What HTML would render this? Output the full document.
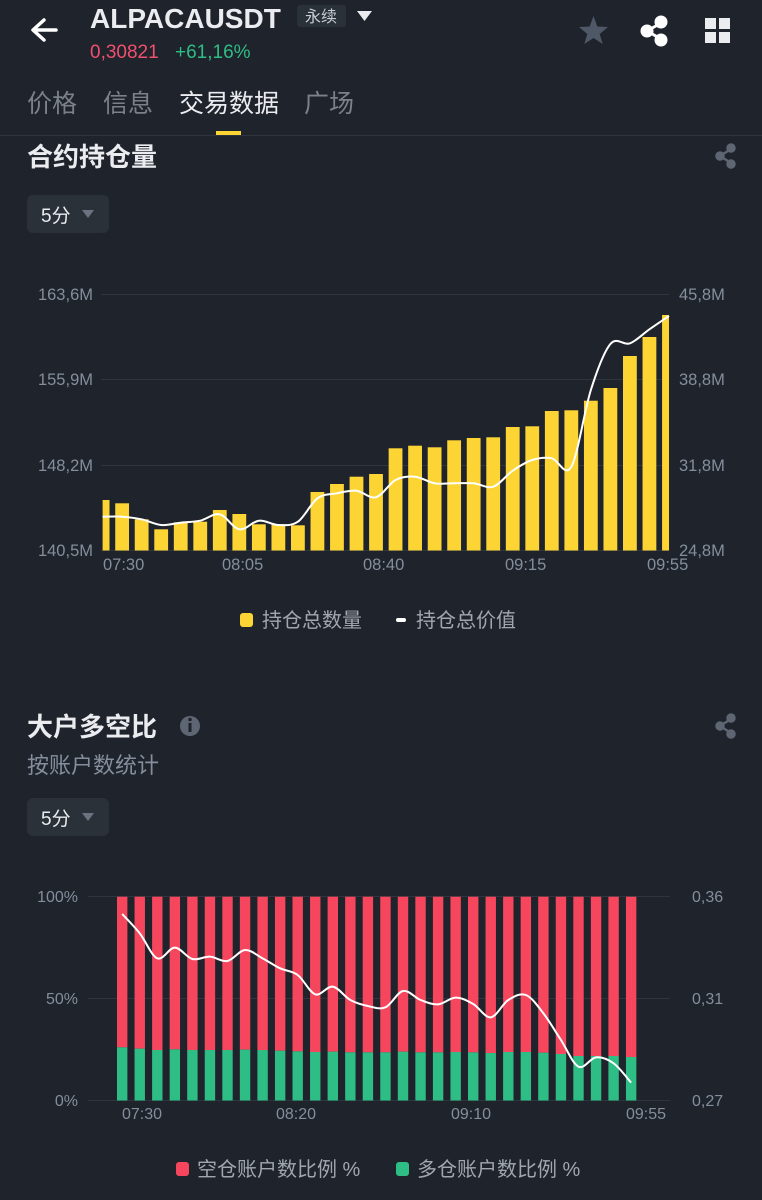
<!DOCTYPE html>
<html><head><meta charset="utf-8">
<style>
html,body{margin:0;padding:0;background:#1f232b;}
svg{display:block}
text{font-family:"Liberation Sans","Noto Sans CJK SC",sans-serif;}
</style></head><body>
<svg id="s" width="762" height="1200" viewBox="0 0 762 1200" xmlns="http://www.w3.org/2000/svg">
<rect width="762" height="1200" fill="#1f232b"/>
<!-- header -->
<path d="M56 30 H34 M44 20 L33 30 L44 40" stroke="#fff" stroke-width="3.5" fill="none" stroke-linecap="round" stroke-linejoin="round"/>
<text x="90" y="28" font-size="28" font-weight="bold" fill="#eaecef">ALPACAUSDT</text>
<rect x="297" y="5" width="49" height="22" rx="3" fill="#2b3139"/>
<text x="321" y="22" font-size="16" fill="#c8ccd2" text-anchor="middle">永续</text>
<path d="M357 11 L372 11 L364.5 21 Z" fill="#eaecef"/>
<text x="90" y="58" font-size="19" fill="#f0506e">0,30821</text>
<text x="175" y="58" font-size="19" fill="#2ebd85">+61,16%</text>
<path d="M593.5 16 L597.3 26.5 L608 27 L599.7 34 L602.7 44 L593.5 38 L584.3 44 L587.3 34 L579 27 L589.7 26.5 Z" fill="#4f5867"/>
<g fill="#fff" stroke="#fff" stroke-width="3"><line x1="647" y1="31" x2="661" y2="23"/><line x1="647" y1="31" x2="661" y2="39"/><circle cx="647" cy="31" r="5"/><circle cx="661" cy="22" r="5"/><circle cx="661" cy="40" r="5"/></g>
<g fill="#eaecef"><rect x="705" y="18" width="11" height="11"/><rect x="719" y="18" width="11" height="11"/><rect x="705" y="32" width="11" height="11"/><rect x="719" y="32" width="11" height="11"/></g>
<!-- tabs -->
<text x="27" y="112" font-size="25" fill="#7b818b">价格</text>
<text x="103" y="112" font-size="25" fill="#7b818b">信息</text>
<text x="179" y="112" font-size="25" fill="#eaecef">交易数据</text>
<text x="304" y="112" font-size="25" fill="#7b818b">广场</text>
<rect x="216" y="131" width="25" height="4" fill="#fcd535"/>
<rect x="0" y="135" width="762" height="1" fill="#2e343d"/>
<!-- section 1 -->
<text x="27" y="166" font-size="26" font-weight="bold" fill="#eaecef">合约持仓量</text>
<g fill="#5e6673" stroke="#5e6673" stroke-width="2.5"><line x1="720" y1="156" x2="731" y2="149"/><line x1="720" y1="156" x2="731" y2="163"/><circle cx="720" cy="156" r="3.5"/><circle cx="731" cy="148" r="3.5"/><circle cx="731" cy="164" r="3.5"/></g>
<rect x="27" y="195" width="82" height="38" rx="6" fill="#2b3139"/>
<text x="41" y="222" font-size="19" fill="#eaecef">5分</text>
<path d="M82 210 L94 210 L88 218 Z" fill="#6b7280"/>
<g stroke="#2f353e" stroke-width="1"><line x1="101" y1="294.5" x2="669" y2="294.5"/><line x1="101" y1="379.5" x2="669" y2="379.5"/><line x1="101" y1="465.5" x2="669" y2="465.5"/><line x1="101" y1="550.5" x2="669" y2="550.5"/></g>
<g font-size="16.5" fill="#848e9c">
<text x="93" y="300" text-anchor="end">163,6M</text><text x="93" y="385" text-anchor="end">155,9M</text><text x="93" y="471" text-anchor="end">148,2M</text><text x="93" y="556" text-anchor="end">140,5M</text>
<text x="679" y="300">45,8M</text><text x="679" y="385">38,8M</text><text x="679" y="471">31,8M</text><text x="679" y="556">24,8M</text>
<text x="103" y="570">07:30</text><text x="222" y="570">08:05</text><text x="363" y="570">08:40</text><text x="505" y="570">09:15</text><text x="647" y="570">09:55</text>
</g>
<g id="b1"></g>
<path id="l1" fill="none" stroke="#fff" stroke-width="2"/>
<rect x="240" y="613" width="13" height="14" rx="3" fill="#fcd535"/>
<text x="262" y="627" font-size="20" fill="#a1a7b0">持仓总数量</text>
<rect x="396" y="618" width="10" height="4" rx="2" fill="#fff"/>
<text x="416" y="627" font-size="20" fill="#a1a7b0">持仓总价值</text>
<!-- section 2 -->
<text x="27" y="736" font-size="26" font-weight="bold" fill="#eaecef">大户多空比</text>
<circle cx="190" cy="726" r="10" fill="#5e6673"/><rect x="188.5" y="723" width="3" height="9" fill="#1f232b"/><circle cx="190" cy="719.5" r="1.8" fill="#1f232b"/>
<text x="27" y="773" font-size="22" fill="#848e9c">按账户数统计</text>
<g fill="#5e6673" stroke="#5e6673" stroke-width="2.5"><line x1="720" y1="726" x2="731" y2="719"/><line x1="720" y1="726" x2="731" y2="733"/><circle cx="720" cy="726" r="3.5"/><circle cx="731" cy="718" r="3.5"/><circle cx="731" cy="734" r="3.5"/></g>
<rect x="27" y="798" width="82" height="38" rx="6" fill="#2b3139"/>
<text x="41" y="825" font-size="19" fill="#eaecef">5分</text>
<path d="M82 813 L94 813 L88 821 Z" fill="#6b7280"/>
<g stroke="#2f353e" stroke-width="1"><line x1="88" y1="896.5" x2="670" y2="896.5"/><line x1="88" y1="998.5" x2="670" y2="998.5"/><line x1="88" y1="1100.5" x2="670" y2="1100.5"/></g>
<g font-size="16" fill="#848e9c">
<text x="78" y="902" text-anchor="end">100%</text><text x="78" y="1004" text-anchor="end">50%</text><text x="78" y="1106" text-anchor="end">0%</text>
<text x="692" y="902">0,36</text><text x="692" y="1004">0,31</text><text x="692" y="1106">0,27</text>
<text x="122" y="1119">07:30</text><text x="276" y="1119">08:20</text><text x="451" y="1119">09:10</text><text x="626" y="1119">09:55</text>
</g>
<g id="b2"></g>
<path id="l2" fill="none" stroke="#fff" stroke-width="2"/>
<rect x="176" y="1162" width="13" height="14" rx="3" fill="#f6465d"/>
<text x="197" y="1176" font-size="20" fill="#a1a7b0">空仓账户数比例 %</text>
<rect x="396" y="1162" width="13" height="14" rx="3" fill="#2ebd85"/>
<text x="417" y="1176" font-size="20" fill="#a1a7b0">多仓账户数比例 %</text>
</svg>
<script>
var NS="http://www.w3.org/2000/svg";
function smooth(p){var d="M"+p[0][0]+" "+p[0][1];for(var i=0;i<p.length-1;i++){var p0=p[i-1]||p[i],p1=p[i],p2=p[i+1],p3=p[i+2]||p2;var c1x=p1[0]+(p2[0]-p0[0])/6,c1y=p1[1]+(p2[1]-p0[1])/6,c2x=p2[0]-(p3[0]-p1[0])/6,c2y=p2[1]-(p3[1]-p1[1])/6;d+=" C"+c1x+" "+c1y+" "+c2x+" "+c2y+" "+p2[0]+" "+p2[1];}return d;}
function rect(g,x,y,w,h,c){var r=document.createElementNS(NS,"rect");r.setAttribute("x",x);r.setAttribute("y",y);r.setAttribute("width",w);r.setAttribute("height",h);r.setAttribute("fill",c);g.appendChild(r);}
var t1=[500,503.3,519.3,529.3,522.3,521.7,510,514,524.3,524.3,525.3,492,484,476.7,474,448.3,445.7,447.3,440.3,438,437.3,427,426.3,411,410.3,400.7,388,356,337,315];
var l1=[516.7,516.7,519.3,525,522.7,520.7,514.3,529.3,520.7,525,521.7,498.3,493.3,490.7,497.3,480,476.7,483.3,483.3,483.3,486.7,470.7,460,458.3,466.7,390,344,343.3,329.3,316];
var g1=document.getElementById("b1"),pts=[];
for(var i=0;i<30;i++){var cx=102.6+i*19.53;var x0=Math.max(cx-6.9,102.6),x1=Math.min(cx+6.9,669);rect(g1,x0,t1[i],x1-x0,550.5-t1[i],"#fcd535");pts.push([cx,l1[i]]);}
document.getElementById("l1").setAttribute("d",smooth(pts));
var gz=[502,506,510,508,510,510,510,509,510,512,514,516,515,517,517,517,515,517,517,516,517,519,516,516,518,522,528,528,528,531];
var lz=[102,160,235,203,237,230,243,210,235,265,285,343,320,360,378,382,333,360,373,353,372,412,360,345,400,480,560,532,550,608];
var g2=document.getElementById("b2"),p2=[];
for(var i=0;i<30;i++){var x=117+i*17.55;var gy=880+gz[i]/3;rect(g2,x,896.7,10.4,gy-896.7,"#f6465d");rect(g2,x,gy,10.4,1100.5-gy,"#2ebd85");p2.push([x+5.2,880+lz[i]/3]);}
document.getElementById("l2").setAttribute("d",smooth(p2));
</script>
</body></html>
